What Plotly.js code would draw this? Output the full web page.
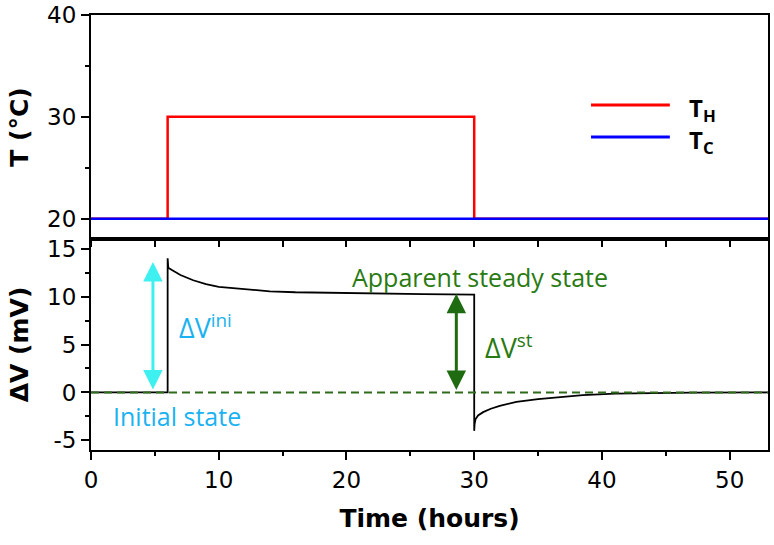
<!DOCTYPE html>
<html>
<head>
<meta charset="utf-8">
<script src="https://cdn.plot.ly/plotly-3.0.1.min.js"></script>
<style>html,body{margin:0;padding:0;background:#fff}#chart{width:774px;height:545px}</style>
</head>
<body>
<div id="chart"></div>
<script>
// Top panel: temperatures (hours, °C)
const thX = [0, 6, 6, 30, 30, 53];
const thY = [20, 20, 30, 30, 20, 20];
const tcX = [0, 53];
const tcY = [20, 20];

// Bottom panel: voltage difference (hours, mV)
const dvX = [0, 6, 6, 6.05, 6.3, 7, 8, 9, 10, 12, 14, 16, 18, 20, 23, 26, 30,
             30, 30.03, 30.1, 30.3, 30.7, 31.3, 32, 33.3, 35, 36.5, 38.5, 41, 44, 47, 53];
const dvY = [0, 0, 14.0, 13.0, 12.8, 12.25, 11.7, 11.3, 11.0, 10.75, 10.55, 10.45, 10.4, 10.35, 10.3, 10.25, 10.2,
             -4.0, -3.3, -2.8, -2.4, -2.05, -1.7, -1.4, -0.97, -0.7, -0.5, -0.27, -0.12, -0.05, -0.02, 0];
const zeroX = [0, 53];
const zeroY = [0, 0];

const xTickVals = [0, 10, 20, 30, 40, 50];
const xTickText = ['0', '10', '20', '30', '40', '50'];
const tTickVals = [20, 30, 40];
const tTickText = ['20', '30', '40'];
const vTickVals = [-5, 0, 5, 10, 15];
const vTickText = ['-5', '0', '5', '10', '15'];

const legendNames = ['T<sub>H</sub>', 'T<sub>C</sub>'];

const FONT = 'DejaVu Sans, Liberation Sans, Arial, sans-serif';
const CAL = 'Open Sans, Lato, sans-serif';
const cyanArrow = '#3ff0f0';
const cyanText = '#1ab2f0';
const greenArrow = '#1f6b12';
const greenText = '#2a7a12';

const traces = [
  {x: thX, y: thY, xaxis: 'x2', yaxis: 'y2', mode: 'lines', line: {color: '#ff0000', width: 2.5}, showlegend: false, name: 'TH'},
  {x: tcX, y: tcY, xaxis: 'x2', yaxis: 'y2', mode: 'lines', line: {color: '#0000ff', width: 2.5}, showlegend: false, name: 'TC'},
  {x: dvX, y: dvY, xaxis: 'x', yaxis: 'y', mode: 'lines', line: {color: '#000000', width: 1.8}, showlegend: false},
  {x: zeroX, y: zeroY, xaxis: 'x', yaxis: 'y', mode: 'lines', line: {color: '#2e6b1a', width: 2, dash: '8px,5px'}, showlegend: false}
];

const axisCommon = {
  showline: true, linecolor: '#000', linewidth: 2, mirror: true,
  showgrid: false, zeroline: false, ticks: 'outside', tickcolor: '#000',
  tickwidth: 2, ticklen: 8, tickfont: {family: FONT, size: 23, color: '#000'}
};

const layout = {
  width: 774, height: 545,
  margin: {l: 91, r: 6, t: 15, b: 95},
  paper_bgcolor: '#fff', plot_bgcolor: '#fff',
  showlegend: false,
  xaxis: Object.assign({}, axisCommon, {
    domain: [0, 1], anchor: 'y', range: [0, 53],
    tickmode: 'array', tickvals: xTickVals, ticktext: xTickText,
    minor: {dtick: 5, ticks: 'outside', ticklen: 4, tickwidth: 2, tickcolor: '#000'},
    title: {text: '<b>Time (hours)</b>', font: {family: FONT, size: 25, color: '#000'}, standoff: 18}
  }),
  xaxis2: Object.assign({}, axisCommon, {
    domain: [0, 1], anchor: 'y2', matches: 'x', range: [0, 53],
    showticklabels: false, dtick: 5, tick0: 0, ticklen: 6
  }),
  yaxis: Object.assign({}, axisCommon, {
    domain: [0, 0.485], anchor: 'x', range: [-6, 16],
    tickmode: 'array', tickvals: vTickVals, ticktext: vTickText,
    minor: {dtick: 2.5, tick0: 0, ticks: 'outside', ticklen: 4, tickwidth: 2, tickcolor: '#000'},
    title: {text: '<b>ΔV (mV)</b>', font: {family: FONT, size: 25, color: '#000'}, standoff: 11}
  }),
  yaxis2: Object.assign({}, axisCommon, {
    domain: [0.485, 1], anchor: 'x2', range: [18, 40],
    tickmode: 'array', tickvals: tTickVals, ticktext: tTickText,
    minor: {dtick: 5, tick0: 0, ticks: 'outside', ticklen: 4, tickwidth: 2, tickcolor: '#000'},
    title: {text: '<b>T (°C)</b>', font: {family: FONT, size: 25, color: '#000'}, standoff: 11}
  }),
  shapes: [
    {type: 'line', xref: 'paper', yref: 'paper', x0: 0.7386, x1: 0.855, y0: 0.793, y1: 0.793, line: {color: '#ff0000', width: 3}},
    {type: 'line', xref: 'paper', yref: 'paper', x0: 0.7386, x1: 0.855, y0: 0.7195, y1: 0.7195, line: {color: '#0000ff', width: 3}}
  ],
  annotations: [
    {xref: 'paper', yref: 'paper', x: 0.880, y: 0.785, xanchor: 'left', yanchor: 'middle', showarrow: false,
     text: '<b>' + legendNames[0] + '</b>', font: {family: CAL, size: 24, color: '#000'}},
    {xref: 'paper', yref: 'paper', x: 0.880, y: 0.711, xanchor: 'left', yanchor: 'middle', showarrow: false,
     text: '<b>' + legendNames[1] + '</b>', font: {family: CAL, size: 24, color: '#000'}},
    // double arrows
    {xref: 'x', yref: 'y', axref: 'x', ayref: 'y', x: 4.85, y: 13.6, ax: 4.85, ay: 0.15, text: '',
     showarrow: true, arrowside: 'end+start', arrowhead: 2, startarrowhead: 2, arrowsize: 1.3, startarrowsize: 1.3,
     arrowwidth: 3, arrowcolor: cyanArrow},
    {xref: 'x', yref: 'y', axref: 'x', ayref: 'y', x: 28.6, y: 10.3, ax: 28.6, ay: 0.1, text: '',
     showarrow: true, arrowside: 'end+start', arrowhead: 2, startarrowhead: 2, arrowsize: 1.3, startarrowsize: 1.3,
     arrowwidth: 3, arrowcolor: greenArrow},
    // labels
    {xref: 'x', yref: 'y', x: 6.75, y: 6.9, xanchor: 'left', yanchor: 'middle', showarrow: false,
     text: 'ΔV<sup>ini</sup>', font: {family: CAL, size: 27, color: cyanText}},
    {xref: 'x', yref: 'y', x: 6.73, y: -2.45, xanchor: 'center', yanchor: 'middle', showarrow: false,
     text: 'Initial state', font: {family: CAL, size: 25, color: cyanText}},
    {xref: 'x', yref: 'y', x: 30.7, y: 4.8, xanchor: 'left', yanchor: 'middle', showarrow: false,
     text: 'ΔV<sup>st</sup>', font: {family: CAL, size: 27, color: greenText}},
    {xref: 'x', yref: 'y', x: 30.46, y: 12.05, xanchor: 'center', yanchor: 'middle', showarrow: false,
     text: 'Apparent steady state', font: {family: CAL, size: 25, color: greenText}}
  ]
};

Plotly.newPlot('chart', traces, layout, {displayModeBar: false, staticPlot: true});
</script>
</body>
</html>
